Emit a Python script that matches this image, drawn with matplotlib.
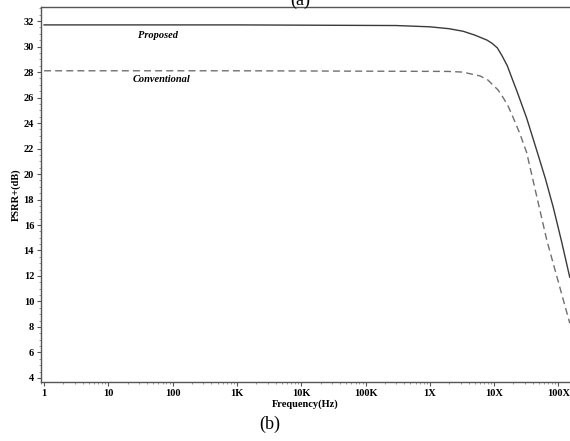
import matplotlib.pyplot as plt
from matplotlib.ticker import FixedLocator, MultipleLocator, NullFormatter, LogLocator

# values (frequency in Hz, PSRR+ in dB)
proposed_freq = [1, 1e3, 3e5, 1e6, 2e6, 3.3e6, 5e6, 7.8e6, 9.3e6, 1.12e7, 1.32e7,
                 1.6e7, 1.9e7, 2.3e7, 3.2e7, 4.7e7, 6.3e7, 8.3e7, 1.12e8, 1.5e8]
proposed_psrr = [31.7, 31.7, 31.65, 31.55, 31.4, 31.2, 30.9, 30.5, 30.25, 29.9, 29.3,
                 28.5, 27.5, 26.4, 24.4, 21.7, 19.6, 17.4, 14.7, 11.9]

conventional_freq = [1, 1e3, 1.9e6, 3.2e6, 6.0e6, 7.9e6, 9.5e6, 1.15e7, 1.38e7,
                     1.66e7, 1.95e7, 2.5e7, 3.2e7, 6.6e7, 1.5e8]
conventional_psrr = [28.1, 28.1, 28.05, 28.0, 27.7, 27.4, 27.0, 26.6, 26.0,
                     25.3, 24.5, 23.2, 21.7, 14.8, 8.3]

x_ticks = [1, 1e1, 1e2, 1e3, 1e4, 1e5, 1e6, 1e7, 1e8]
x_tick_labels = ["1", "10", "100", "1K", "10K", "100K", "1X", "10X", "100X"]
y_ticks = list(range(4, 33, 2))

serif = ["Liberation Serif", "DejaVu Serif"]

fig = plt.figure(figsize=(5.7, 4.41), dpi=100)
ax = fig.add_axes([0.072, 0.134, 0.928, 0.850])

ax.plot(proposed_freq, proposed_psrr, color="#3a3a3a", lw=1.0)
ax.plot(conventional_freq, conventional_psrr, color="#707070", lw=1.0,
        linestyle=(0, (5, 3)))

ax.set_xscale("log")
ax.set_xlim(10 ** -0.047, 10 ** 8.18)
ax.set_ylim(3.69, 33.1)

ax.xaxis.set_major_locator(FixedLocator(x_ticks))
ax.set_xticklabels(x_tick_labels)
ax.xaxis.set_minor_locator(LogLocator(base=10, subs=range(2, 10), numticks=20))
ax.xaxis.set_minor_formatter(NullFormatter())
ax.yaxis.set_major_locator(FixedLocator(y_ticks))
ax.yaxis.set_minor_locator(MultipleLocator(0.5))

for lab in ax.get_xticklabels() + ax.get_yticklabels():
    lab.set_family(serif)
    lab.set_fontweight("bold")
    lab.set_fontsize(7.5)

ax.tick_params(which="major", direction="out", length=3, width=0.8, color="#555555", pad=2)
ax.tick_params(which="minor", direction="out", length=1.5, width=0.6, color="#888888")

ax.spines["right"].set_visible(False)
for side in ["left", "top", "bottom"]:
    ax.spines[side].set_color("#555555")
    ax.spines[side].set_linewidth(1.0)

ax.set_xlabel("Frequency(Hz)", family=serif, fontweight="bold", fontsize=7.5, labelpad=1)
ax.set_ylabel("PSRR+(dB)", family=serif, fontweight="bold", fontsize=7.5, labelpad=2)

ax.text(60, 30.85, "Proposed", family=serif, fontweight="bold", style="italic",
        fontsize=7.5, ha="center", va="center")
ax.text(66, 27.45, "Conventional", family=serif, fontweight="bold", style="italic",
        fontsize=7.5, ha="center", va="center")

fig.text(0.527, 1.0, "(a)", family=serif, fontsize=13, ha="center", va="center")
fig.text(0.474, 0.037, "(b)", family=serif, fontsize=13, ha="center", va="center")

fig.savefig("out.png", dpi=100)
